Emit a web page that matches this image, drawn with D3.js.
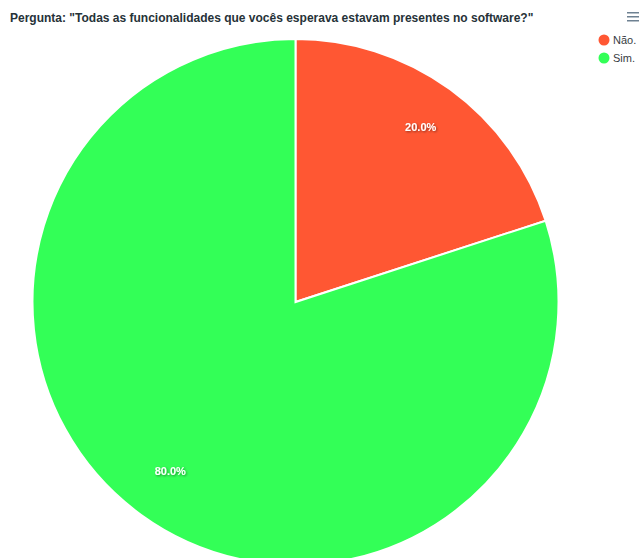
<!DOCTYPE html>
<html>
<head>
<meta charset="utf-8">
<script src="https://cdn.jsdelivr.net/npm/d3@7"></script>
<style>
  body { margin: 0; background: #fff; font-family: Helvetica, Arial, "Liberation Sans", sans-serif; }
  svg { display: block; }
</style>
</head>
<body>
<svg id="chart"></svg>
<script>
// data
const categories = ["Não.", "Sim."];
const values = [1, 4];
const colors = ["#ff5733", "#33ff57"];
const title = "Pergunta: \"Todas as funcionalidades que vocês esperava estavam presentes no software?\"";

const width = 640, height = 558;
const cx = 295.5, cy = 302, radius = 263;

const svg = d3.select("#chart").attr("width", width).attr("height", height);

const defs = svg.append("defs");
const f = defs.append("filter").attr("id", "shadow").attr("x", "-20%").attr("y", "-20%").attr("width", "140%").attr("height", "160%");
f.append("feDropShadow").attr("dx", 1).attr("dy", 1).attr("stdDeviation", 1).attr("flood-color", "#000").attr("flood-opacity", 0.45);

// title
svg.append("text")
  .attr("x", 10).attr("y", 22)
  .attr("font-size", 12).attr("font-weight", "bold").attr("fill", "#263238")
  .text(title);

// pie
const pie = d3.pie().sort(null).value(d => d);
const arcs = pie(values);
const arc = d3.arc().innerRadius(0).outerRadius(radius);
const labelArc = d3.arc().innerRadius(radius * 0.81).outerRadius(radius * 0.81);
const total = d3.sum(values);

const g = svg.append("g").attr("transform", `translate(${cx},${cy})`);

g.selectAll("path").data(arcs).join("path")
  .attr("d", arc)
  .attr("fill", (d, i) => colors[i])
  .attr("stroke", "#fff")
  .attr("stroke-width", 2);

g.selectAll("text.lbl").data(arcs).join("text")
  .attr("class", "lbl")
  .attr("transform", d => { const c = labelArc.centroid(d); return `translate(${c[0]},${c[1] - 3})`; })
  .attr("text-anchor", "middle")
  .attr("dy", "0.35em")
  .attr("font-size", 11).attr("font-weight", "bold").attr("fill", "#fff")
  .attr("filter", "url(#shadow)")
  .text(d => (d.value / total * 100).toFixed(1) + "%");

// legend
const legend = svg.append("g");
const items = legend.selectAll("g").data(categories).join("g")
  .attr("transform", (d, i) => `translate(604,${40 + i * 18})`);
items.append("circle").attr("r", 5.5).attr("fill", (d, i) => colors[i]);
items.append("text").attr("x", 9).attr("dy", "0.35em")
  .attr("font-size", 11).attr("fill", "#373d3f").text(d => d);

// menu icon
const menu = svg.append("g").attr("transform", "translate(627,12)");
[0, 4, 8].forEach(y => menu.append("rect").attr("x", 0).attr("y", y).attr("width", 12).attr("height", 1.5).attr("fill", "#6e8192"));
</script>
</body>
</html>
